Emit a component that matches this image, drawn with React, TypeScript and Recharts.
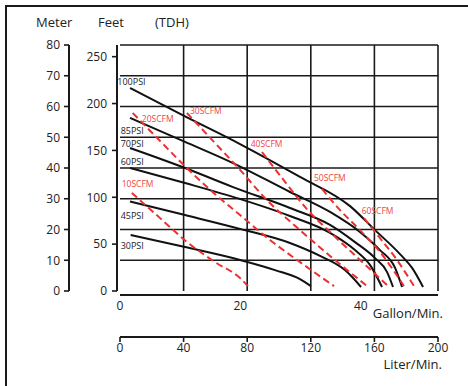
import { LineChart, Line, XAxis, YAxis, ReferenceLine, ReferenceDot } from 'recharts';

const W = 468;
const H = 386;
const FT_PER_M = 3.28084;
const L_PER_GAL = 3.78541;

const literTicks = [0, 40, 80, 120, 160, 200];
const gallonTicks = [0, 20, 40];
const meterTicks = [0, 10, 20, 30, 40, 50, 60, 70, 80];
const feetTicks = [0, 50, 100, 150, 200, 250];
const gridMeters = [10, 20, 30, 40, 50, 60, 70, 80];
const gridLiters = [40, 80, 120, 160, 200];

// [liter/min, meter]
const psi100 = [[6.3, 66.0], [40.9, 56.8], [75.5, 47.8], [113.2, 37.1], [144.7, 27.6], [160.4, 19.8], [176.1, 12.0], [183.7, 7.5], [190.6, 1.3]];
const psi85 = [[6.3, 56.3], [40.9, 48.5], [71.1, 41.6], [106.9, 32.2], [132.1, 25.7], [150.9, 19.2], [163.5, 13.3], [173.0, 7.5], [177.4, 1.3]];
const psi70 = [[6.3, 46.5], [40.9, 40.0], [71.1, 33.8], [106.9, 27.0], [132.1, 21.5], [147.8, 15.9], [160.4, 10.7], [167.9, 6.2], [171.7, 1.3]];
const psi60 = [[6.3, 40.0], [40.9, 35.1], [75.5, 29.9], [106.9, 24.4], [132.1, 18.9], [147.8, 13.3], [157.2, 8.5], [164.8, 1.3]];
const psi45 = [[6.3, 29.1], [40.9, 24.7], [75.5, 20.2], [106.9, 15.6], [125.8, 11.4], [141.5, 6.8], [151.6, 1.3]];
const psi30 = [[6.7, 18.2], [40.9, 14.3], [75.5, 10.1], [97.5, 6.8], [113.2, 3.9], [120.1, 1.6]];

const scfm10 = [[7.4, 31.9], [25.2, 23.7], [42.0, 16.0], [59.8, 9.4], [75.5, 4.2], [80.5, 1.6]];
const scfm20 = [[8.0, 57.9], [25.2, 48.8], [42.0, 40.0], [59.8, 31.5], [75.5, 24.7], [94.3, 16.6], [113.2, 9.4], [134.6, 1.6]];
const scfm30 = [[42.1, 57.9], [59.8, 48.1], [75.5, 39.4], [91.2, 30.2], [113.2, 19.8], [132.1, 11.4], [155.4, 1.6]];
const scfm40 = [[89.3, 45.2], [103.8, 35.5], [117.4, 26.7], [132.1, 19.2], [150.9, 10.1], [168.6, 1.6]];
const scfm50 = [[127.0, 33.2], [138.4, 26.3], [150.9, 19.8], [163.5, 12.7], [178.6, 1.6]];
const scfm60 = [[153.5, 23.7], [163.5, 17.2], [174.2, 10.1], [184.9, 1.6]];

const psiNames = ['100PSI', '85PSI', '70PSI', '60PSI', '45PSI', '30PSI'];
const psiSeries = [psi100, psi85, psi70, psi60, psi45, psi30];
const psiLabelAt = [[-1.7, 68.0], [0.4, 52.0], [0.4, 47.9], [0.4, 42.1], [0.4, 24.4], [0.4, 14.8]];

const scfmNames = ['10SCFM', '20SCFM', '30SCFM', '40SCFM', '50SCFM', '60SCFM'];
const scfmSeries = [scfm10, scfm20, scfm30, scfm40, scfm50, scfm60];
const scfmLabelAt = [[1.1, 34.8], [13.7, 55.9], [44.0, 58.4], [82.2, 47.8], [122.0, 36.7], [152.0, 26.0]];

const toRows = (arr: number[][]) => arr.map(([q, h]) => ({ q, h }));

const INK = '#1a1a1a';
const RED = '#ec3030';
const RED_TEXT = '#ee4444';
const tickStyle = { fontSize: 12, fill: '#222' };
const layer: React.CSSProperties = { position: 'absolute', left: 0, top: 0 };

export default function App() {
  return (
    <div style={{ position: 'absolute', left: 0, top: 0, width: W, height: H, background: '#fff', overflow: 'hidden', fontFamily: '"Open Sans", sans-serif' }}>
      <div style={{ position: 'absolute', left: 5, top: 5, right: -10, bottom: -10, borderTop: `2px solid ${INK}`, borderLeft: `2px solid ${INK}` }} />

      {/* meter axis */}
      <div style={layer}>
        <LineChart width={W} height={H} data={[{ q: 0 }]} margin={{ top: 45, right: 30, bottom: 95, left: 9 }}>
          <XAxis type="number" dataKey="q" domain={[0, 200]} hide />
          <YAxis type="number" domain={[0, 80]} ticks={meterTicks} interval={0} width={60} allowDataOverflow
            tick={tickStyle} tickSize={5} tickMargin={4}
            axisLine={{ stroke: INK, strokeWidth: 2 }} tickLine={{ stroke: INK, strokeWidth: 1.6 }} />
        </LineChart>
      </div>

      {/* feet axis */}
      <div style={layer}>
        <LineChart width={W} height={H} data={[{ q: 0 }]} margin={{ top: 45, right: 30, bottom: 95, left: 67 }}>
          <XAxis type="number" dataKey="q" domain={[0, 200]} hide />
          <YAxis type="number" domain={[0, 80 * FT_PER_M]} ticks={feetTicks} interval={0} width={50} allowDataOverflow
            tick={tickStyle} tickSize={5} tickMargin={5}
            axisLine={{ stroke: INK, strokeWidth: 2 }} tickLine={{ stroke: INK, strokeWidth: 1.6 }} />
        </LineChart>
      </div>

      {/* gallon axis */}
      <div style={layer}>
        <LineChart width={W} height={H} data={[{ q: 0 }]} margin={{ top: 45, right: 30, bottom: 61, left: 120 }}>
          <XAxis type="number" dataKey="q" domain={[0, 200 / L_PER_GAL]} ticks={gallonTicks} interval={0} height={30} allowDataOverflow
            tick={tickStyle} tickLine={false} tickSize={4} tickMargin={2}
            axisLine={{ stroke: INK, strokeWidth: 2.2 }} />
          <YAxis type="number" domain={[0, 1]} hide />
        </LineChart>
      </div>

      {/* liter axis */}
      <div style={layer}>
        <LineChart width={W} height={H} data={[{ q: 0 }]} margin={{ top: 45, right: 30, bottom: 19, left: 120 }}>
          <XAxis type="number" dataKey="q" domain={[0, 200]} ticks={literTicks} interval={0} height={30} allowDataOverflow
            tick={tickStyle} tickSize={5} tickMargin={1}
            axisLine={{ stroke: INK, strokeWidth: 2 }} tickLine={{ stroke: INK, strokeWidth: 1.6 }} />
          <YAxis type="number" domain={[0, 1]} hide />
        </LineChart>
      </div>

      {/* curves */}
      <div style={layer}>
        <LineChart width={W} height={H} margin={{ top: 45, right: 30, bottom: 95, left: 120 }}>
          <XAxis type="number" dataKey="q" domain={[0, 200]} hide allowDataOverflow />
          <YAxis type="number" domain={[0, 80]} hide allowDataOverflow />
          {gridMeters.map((m) => (
            <ReferenceLine key={'h' + m} y={m} stroke={INK} strokeWidth={1.6} ifOverflow="visible" />
          ))}
          {gridLiters.map((l) => (
            <ReferenceLine key={'v' + l} x={l} stroke={INK} strokeWidth={1.6} ifOverflow="visible" />
          ))}
          {psiSeries.map((s, i) => (
            <Line key={psiNames[i]} data={toRows(s)} dataKey="h" type="monotone" stroke="#111" strokeWidth={2}
              dot={false} activeDot={false} isAnimationActive={false} />
          ))}
          {scfmSeries.map((s, i) => (
            <Line key={scfmNames[i]} data={toRows(s)} dataKey="h" type="monotone" stroke={RED} strokeWidth={2}
              strokeDasharray="7 4" dot={false} activeDot={false} isAnimationActive={false} />
          ))}
          {psiNames.map((n, i) => (
            <ReferenceDot key={'l' + n} x={psiLabelAt[i][0]} y={psiLabelAt[i][1]} r={0} fill="none" stroke="none" ifOverflow="visible"
              label={{ value: n, position: 'right', offset: 0, fill: '#222', fontSize: 9 }} />
          ))}
          {scfmNames.map((n, i) => (
            <ReferenceDot key={'l' + n} x={scfmLabelAt[i][0]} y={scfmLabelAt[i][1]} r={0} fill="none" stroke="none" ifOverflow="visible"
              label={{ value: n, position: 'right', offset: 0, fill: RED_TEXT, fontSize: 8.5 }} />
          ))}
        </LineChart>
      </div>

      <svg width={W} height={H} style={layer}>
        <g fill="#222" fontSize={13}>
          <text x={36} y={26.5}>Meter</text>
          <text x={98} y={26.5}>Feet</text>
          <text x={155} y={26.5}>(TDH)</text>
          <text x={443} y={318} textAnchor="end">Gallon/Min.</text>
          <text x={442} y={368.5} textAnchor="end">Liter/Min.</text>
        </g>
      </svg>
    </div>
  );
}
